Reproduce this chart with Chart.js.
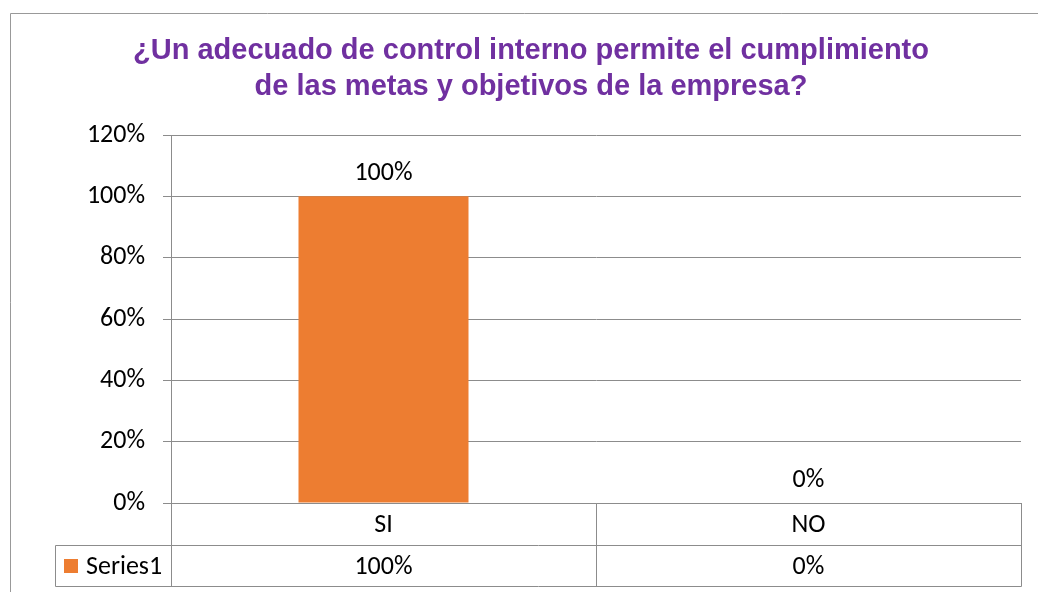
<!DOCTYPE html>
<html>
<head>
<meta charset="utf-8">
<script src="https://cdn.jsdelivr.net/npm/chart.js@4"></script>
<style>
  html, body { margin: 0; padding: 0; background: #fff; }
  #wrap { width: 1038px; height: 592px; position: relative; }
</style>
</head>
<body>
<div id="wrap"><canvas id="chart" width="1038" height="592"></canvas></div>
<script>
// Chart data
const categories = ['SI', 'NO'];
const seriesName = 'Series1';
const seriesValues = [100, 0];
const titleLines = [
    '¿Un adecuado de control interno permite el cumplimiento',
    'de las metas y objetivos de la empresa?'
];

const barColor = '#ED7D31';
const lineColor = '#8c8c8c';
const labelFamily = 'Carlito, Lato, "Open Sans", sans-serif';
const labelFont = '26px ' + labelFamily;

// Draws the outer frame, the title, the value labels and the data table
const excelBits = {
    id: 'excelBits',
    beforeDraw(chart) {
        const ctx = chart.ctx;
        ctx.save();
        ctx.strokeStyle = '#999';
        ctx.lineWidth = 1;
        ctx.beginPath();
        ctx.moveTo(10.5, 592);
        ctx.lineTo(10.5, 13.5);
        ctx.lineTo(1038, 13.5);
        ctx.stroke();

        ctx.fillStyle = '#7030A0';
        ctx.font = 'bold 29px "Liberation Sans", Arial, sans-serif';
        ctx.textAlign = 'center';
        ctx.textBaseline = 'middle';
        ctx.fillText(titleLines[0], 531, 51);
        ctx.fillText(titleLines[1], 531, 87);
        ctx.restore();
    },
    afterDraw(chart) {
        const ctx = chart.ctx;
        const x = chart.scales.x;
        const y = chart.scales.y;
        const area = chart.chartArea;
        const left = Math.round(area.left) + 0.5;
        const right = Math.round(area.right) + 0.5;
        const row1 = Math.round(area.bottom) + 0.5;
        const row2 = row1 + 42;
        const row3 = row2 + 41;
        const keyLeft = 55.5;

        ctx.save();
        ctx.font = labelFont;
        ctx.fillStyle = '#000';
        ctx.textAlign = 'center';
        ctx.textBaseline = 'alphabetic';

        // value labels above the bars
        seriesValues.forEach((v, i) => {
            ctx.fillText(v + '%', x.getPixelForValue(i), y.getPixelForValue(v) - 16);
        });

        // data table grid
        ctx.strokeStyle = lineColor;
        ctx.lineWidth = 1;
        ctx.beginPath();
        ctx.moveTo(keyLeft, row2); ctx.lineTo(right, row2);
        ctx.moveTo(keyLeft, row3); ctx.lineTo(right, row3);
        ctx.moveTo(keyLeft, row2); ctx.lineTo(keyLeft, row3);
        ctx.moveTo(left, row1); ctx.lineTo(left, row3);
        ctx.moveTo(right, row1); ctx.lineTo(right, row3);
        for (let i = 0; i < categories.length - 1; i++) {
            const xs = Math.round((x.getPixelForValue(i) + x.getPixelForValue(i + 1)) / 2) + 0.5;
            ctx.moveTo(xs, row1); ctx.lineTo(xs, row3);
        }
        ctx.stroke();

        // table text
        ctx.textBaseline = 'middle';
        categories.forEach((c, i) => {
            ctx.fillText(c, x.getPixelForValue(i), (row1 + row2) / 2 + 1);
            ctx.fillText(seriesValues[i] + '%', x.getPixelForValue(i), (row2 + row3) / 2 + 1);
        });

        // legend key
        ctx.fillStyle = barColor;
        ctx.fillRect(64, 559, 14, 14);
        ctx.fillStyle = '#000';
        ctx.textAlign = 'left';
        ctx.fillText(seriesName, 86, (row2 + row3) / 2 + 1);
        ctx.restore();
    }
};

new Chart(document.getElementById('chart'), {
    type: 'bar',
    data: {
        labels: categories,
        datasets: [{
            label: seriesName,
            data: seriesValues,
            backgroundColor: barColor,
            borderWidth: 0,
            categoryPercentage: 0.8,
            barPercentage: 0.5
        }]
    },
    options: {
        responsive: false,
        animation: false,
        events: [],
        layout: { padding: { left: 0, top: 135, right: 17, bottom: 89 } },
        plugins: {
            legend: { display: false },
            title: { display: false },
            tooltip: { enabled: false }
        },
        scales: {
            x: {
                afterFit(scale) { scale.height = 0; },
                grid: { display: false },
                border: { display: true, color: lineColor },
                ticks: { display: false }
            },
            y: {
                min: 0,
                max: 120,
                afterFit(scale) { scale.width = 171; },
                grid: { color: lineColor, tickLength: 8, drawTicks: true },
                border: { display: true, color: lineColor },
                ticks: {
                    stepSize: 20,
                    padding: 18,
                    color: '#000',
                    font: { family: labelFamily, size: 26 },
                    callback: v => v + '%'
                }
            }
        }
    },
    plugins: [excelBits]
});
</script>
</body>
</html>
